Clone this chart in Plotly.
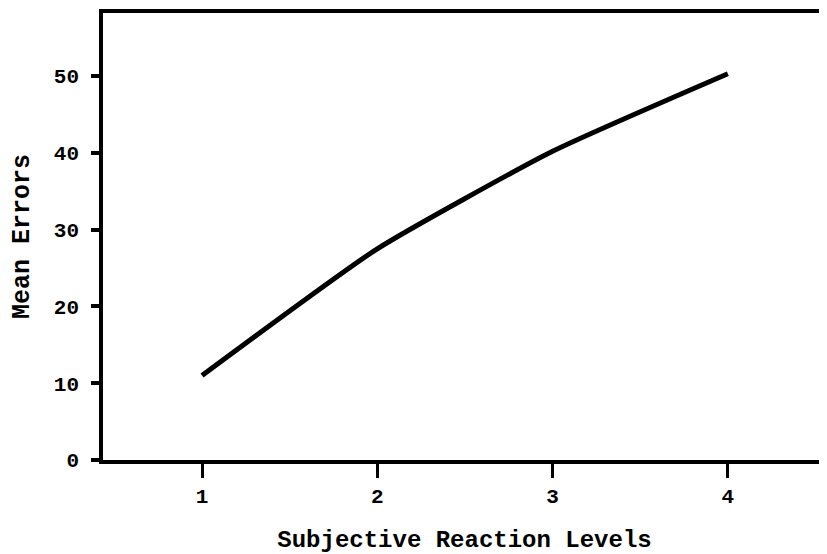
import plotly.graph_objects as go

levels = [1, 2, 3, 4]
mean_errors = [11, 27.5, 40.2, 50.3]
x_ticks = [1, 2, 3, 4]
y_ticks = [0, 10, 20, 30, 40, 50]

fig = go.Figure()
fig.add_trace(go.Scatter(
    x=levels, y=mean_errors, mode="lines",
    line=dict(color="black", width=5, shape="spline", smoothing=0.5),
    showlegend=False,
))

font_family = "Liberation Mono, Courier New, monospace"
fig.update_layout(
    width=819, height=546,
    margin=dict(l=95, r=1, t=5, b=94),
    paper_bgcolor="white", plot_bgcolor="white",
    font=dict(family=font_family, color="black", size=20),
)
fig.update_xaxes(
    range=[0.435, 4.56], tickvals=x_ticks, ticktext=[f"<b>{v}</b>" for v in x_ticks],
    showline=True, linecolor="black", linewidth=3.5, mirror=True,
    ticks="outside", ticklen=14, tickwidth=3, tickcolor="black",
    showgrid=False, zeroline=False, automargin=False,
    tickfont=dict(size=21, family=font_family),
    title=dict(text="<b>Subjective Reaction Levels</b>", font=dict(size=24, family=font_family), standoff=24),
)
fig.update_yaxes(
    range=[0, 58.2], tickvals=y_ticks, ticktext=[f"<b>{v}</b>" for v in y_ticks],
    showline=True, linecolor="black", linewidth=3.5, mirror=True,
    ticks="outside", ticklen=8, tickwidth=3.5, tickcolor="black",
    showgrid=False, zeroline=False, automargin=False,
    ticklabelstandoff=8,
    tickfont=dict(size=21, family=font_family),
    title=dict(text="<b>Mean Errors</b>", font=dict(size=25, family=font_family), standoff=26),
)

fig.write_html("out.html")
